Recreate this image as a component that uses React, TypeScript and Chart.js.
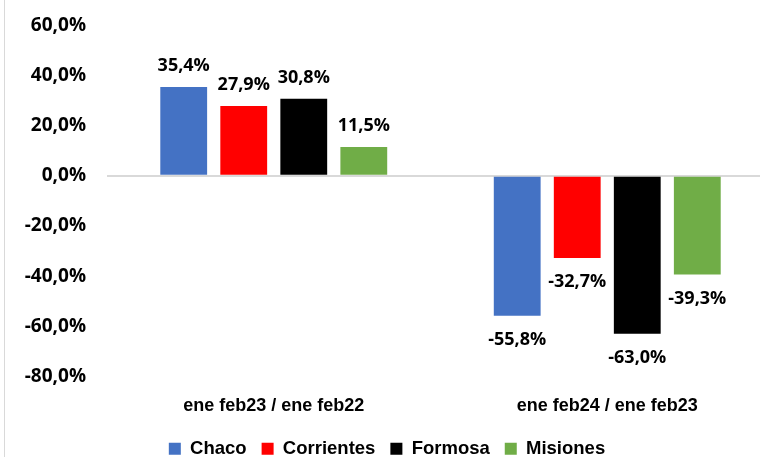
import React, { useEffect, useRef } from "react";
import { Chart, registerables } from "chart.js";

Chart.register(...registerables);

const categories = ["ene feb23 / ene feb22", "ene feb24 / ene feb23"];
const seriesNames = ["Chaco", "Corrientes", "Formosa", "Misiones"];
const chaco = [35.4, -55.8];
const corrientes = [27.9, -32.7];
const formosa = [30.8, -63.0];
const misiones = [11.5, -39.3];
const colors = ["#4472C4", "#FF0000", "#000000", "#70AD47"];
const yMin = -80;
const yMax = 60;
const yStep = 20;

const fmt = (v: number) => v.toFixed(1).replace(".", ",") + "%";

const FONT = "'Open Sans', 'DejaVu Sans', sans-serif";
const NARROW = "'Liberation Sans', sans-serif";

const labelPlugin = {
  id: "valueLabels",
  afterDatasetsDraw(chart: any) {
    const ctx = chart.ctx;
    ctx.save();
    ctx.font = `bold 18px ${FONT}`;
    ctx.fillStyle = "#000";
    ctx.textAlign = "center";
    ctx.textBaseline = "middle";
    chart.data.datasets.forEach((ds: any, i: number) => {
      const meta = chart.getDatasetMeta(i);
      meta.data.forEach((el: any, j: number) => {
        const v = ds.data[j] as number;
        const y = v >= 0 ? el.y - 21 : el.y + 24;
        ctx.fillText(fmt(v), el.x, y);
      });
    });
    ctx.restore();
  },
};

const framePlugin = {
  id: "frame",
  beforeDraw(chart: any) {
    const ctx = chart.ctx;
    ctx.save();
    ctx.strokeStyle = "#d9d9d9";
    ctx.lineWidth = 1;
    ctx.beginPath();
    ctx.moveTo(4.5, 0);
    ctx.lineTo(4.5, chart.height);
    ctx.stroke();
    ctx.restore();
  },
};

export default function App() {
  const ref = useRef<HTMLCanvasElement>(null);
  useEffect(() => {
    if (!ref.current) return;
    const series = [chaco, corrientes, formosa, misiones];
    const chart = new Chart(ref.current, {
      type: "bar",
      data: {
        labels: categories,
        datasets: series.map((d, i) => ({
          label: seriesNames[i],
          data: d,
          backgroundColor: colors[i],
          borderWidth: 0,
          categoryPercentage: 0.72,
          barPercentage: 0.78,
        })),
      },
      options: {
        responsive: false,
        animation: false,
        devicePixelRatio: 1,
        layout: { padding: { top: 18, right: 14, left: 0, bottom: 0 } },
        plugins: {
          tooltip: { enabled: false },
          legend: {
            position: "bottom",
            labels: {
              boxWidth: 12,
              boxHeight: 12,
              padding: 15,
              color: "#000",
              font: { family: NARROW, size: 18.5, weight: "bold" },
            },
          },
        },
        scales: {
          x: {
            grid: { display: false, drawTicks: false },
            border: { display: false },
            afterFit: (s: any) => {
              s.height = 48;
            },
            ticks: {
              color: "#000",
              padding: 19,
              font: { family: NARROW, size: 18, weight: "bold" },
            },
          },
          y: {
            min: yMin,
            max: yMax,
            afterFit: (s: any) => {
              s.width = 107;
            },
            border: { display: false },
            grid: {
              drawTicks: false,
              lineWidth: 2,
              color: (c: any) => (c.tick && c.tick.value === 0 ? "#d9d9d9" : "rgba(0,0,0,0)"),
            },
            ticks: {
              stepSize: yStep,
              padding: 21,
              color: "#000",
              font: { family: FONT, size: 19, weight: "bold" },
              callback: (v: any) => fmt(Number(v)),
            },
          },
        },
      },
      plugins: [labelPlugin, framePlugin],
    });
    return () => chart.destroy();
  }, []);
  return (
    <div
      style={{
        position: "fixed",
        left: 0,
        top: 0,
        width: 760,
        height: 457,
        overflow: "hidden",
        background: "#fff",
      }}
    >
      <canvas
        ref={ref}
        width={788}
        height={475}
        style={{ width: 788, height: 475, position: "absolute", left: 0, top: -7 }}
      />
    </div>
  );
}
